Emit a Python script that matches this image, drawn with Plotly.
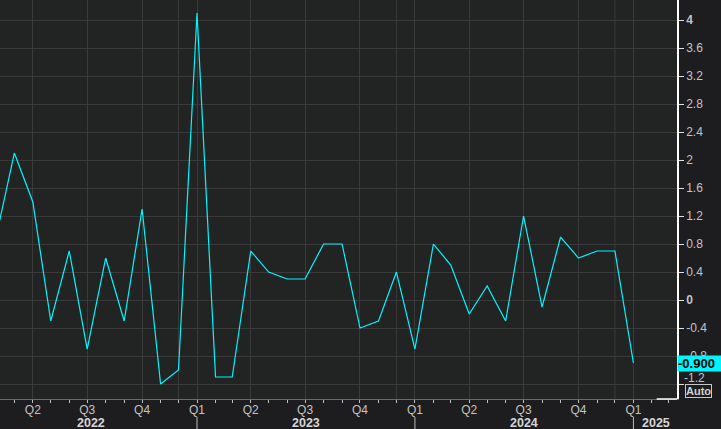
import plotly.graph_objects as go

# monthly readings, Feb 2022 .. Jan 2025
months = [
    "2022-02-01", "2022-03-01", "2022-04-01", "2022-05-01", "2022-06-01", "2022-07-01",
    "2022-08-01", "2022-09-01", "2022-10-01", "2022-11-01", "2022-12-01",
    "2023-01-01", "2023-02-01", "2023-03-01", "2023-04-01", "2023-05-01", "2023-06-01",
    "2023-07-01", "2023-08-01", "2023-09-01", "2023-10-01", "2023-11-01", "2023-12-01",
    "2024-01-01", "2024-02-01", "2024-03-01", "2024-04-01", "2024-05-01", "2024-06-01",
    "2024-07-01", "2024-08-01", "2024-09-01", "2024-10-01", "2024-11-01", "2024-12-01",
    "2025-01-01",
]
values = [
    1.0, 2.1, 1.4, -0.3, 0.7, -0.7, 0.6, -0.3, 1.3, -1.2, -1.0,
    4.1, -1.1, -1.1, 0.7, 0.4, 0.3, 0.3, 0.8, 0.8, -0.4, -0.3, 0.4,
    -0.7, 0.8, 0.5, -0.2, 0.2, -0.3, 1.2, -0.1, 0.9, 0.6, 0.7, 0.7,
    -0.9,
]
last_value = -0.9

quarter_dates = ["2022-04-01", "2022-07-01", "2022-10-01",
                 "2023-01-01", "2023-04-01", "2023-07-01", "2023-10-01",
                 "2024-01-01", "2024-04-01", "2024-07-01", "2024-10-01",
                 "2025-01-01"]
quarter_text = ["Q2", "Q3", "Q4", "Q1", "Q2", "Q3", "Q4", "Q1", "Q2", "Q3", "Q4", "Q1"]
year_starts = ["2023-01-01", "2024-01-01", "2025-01-01"]
dec_lines = ["2022-12-01", "2023-12-01", "2024-12-01"]
year_labels = ["2022", "2023", "2024", "2025"]
year_pos = ["2022-07-08", "2023-07-02", "2024-07-01", "2025-02-07"]

y_ticks = [-1.2, -0.8, -0.4, 0, 0.4, 0.8, 1.2, 1.6, 2, 2.4, 2.8, 3.2, 3.6, 4]
# the lowest label is drawn separately, nudged up above the "Auto" box
y_text = ["", "-0.8", "-0.4", "<b>0</b>", "0.4", "0.8", "1.2", "1.6", "2",
          "2.4", "2.8", "3.2", "3.6", "<b>4</b>"]
low_tick = -1.2

grid = "#393a39"
txt = "#c4c4c4"

fig = go.Figure()
fig.add_trace(go.Scatter(x=months, y=values, mode="lines",
                         line=dict(color="#00f6ff", width=1.2),
                         hoverinfo="skip"))

for d in dec_lines:
    fig.add_shape(type="line", xref="x", yref="paper", x0=d, x1=d, y0=0, y1=1,
                  line=dict(color=grid, width=1), layer="below")
for d in year_starts:
    fig.add_shape(type="line", xref="x", yref="paper", x0=d, x1=d, y0=-0.045, y1=-0.08,
                  line=dict(color="#bdbdbd", width=1))

# white border piece at the bottom right corner of the plot
fig.add_shape(type="line", xref="paper", yref="paper", x0=0.97, x1=1, y0=0, y1=0,
              line=dict(color="#ffffff", width=1.5))

for lab, pos in zip(year_labels, year_pos):
    fig.add_annotation(x=pos, y=-0.06, xref="x", yref="paper", text="<b>%s</b>" % lab,
                       showarrow=False, yanchor="middle",
                       font=dict(family="Liberation Sans", size=12.5, color="#d6d6d6"))

fig.add_annotation(x=1, xref="paper", y=low_tick, yref="y", xanchor="left",
                   text="%.1f" % low_tick, showarrow=False, xshift=6, yshift=6,
                   borderpad=0, font=dict(family="Liberation Sans", size=12, color=txt))
fig.add_annotation(x=1, xref="paper", y=last_value, yref="y", xanchor="left",
                   text="<b>%.3f</b>" % last_value, showarrow=False,
                   bgcolor="#00f6ff", borderpad=0, width=44, align="left",
                   font=dict(family="Liberation Sans", size=13, color="#000000"))
fig.add_annotation(x=1, xref="paper", y=0, yref="paper", xanchor="left", yanchor="bottom",
                   text="<b>Auto</b>", showarrow=False, xshift=8, yshift=1,
                   bordercolor="#c8c8c8", borderwidth=1, borderpad=0,
                   font=dict(family="Liberation Sans", size=11, color="#d0d0d0"))

fig.update_layout(
    width=721, height=429,
    margin=dict(l=0, r=44, t=0, b=30, autoexpand=False),
    paper_bgcolor="#1d1d1f",
    plot_bgcolor="#222423",
    showlegend=False,
    font=dict(family="Liberation Sans", size=12, color=txt),
    xaxis=dict(
        type="date", range=["2022-02-05", "2025-03-15"],
        tickvals=quarter_dates, ticktext=quarter_text,
        ticks="", showgrid=True, gridcolor=grid, gridwidth=1,
        showline=True, linecolor="#6a6a6a", linewidth=1,
        zeroline=False, automargin=False,
        tickfont=dict(size=12, color=txt),
        minor=dict(dtick="M1", tick0="2022-01-01", ticks="outside", ticklen=3,
                   tickcolor="#bdbdbd", showgrid=False),
    ),
    yaxis=dict(
        side="right", range=[-1.414, 4.286],
        tickvals=y_ticks, ticktext=y_text,
        ticks="outside", ticklen=5, tickcolor="#e0e0e0",
        showgrid=True, gridcolor=grid, gridwidth=1,
        showline=True, linecolor="#ffffff", linewidth=1.5,
        zeroline=False, automargin=False,
        tickfont=dict(size=12, color=txt),
    ),
)

fig.write_html("out.html", config={"displayModeBar": False},
               post_script="document.body.style.margin='0px';"
                           "document.body.style.background='#1d1d1f';")
